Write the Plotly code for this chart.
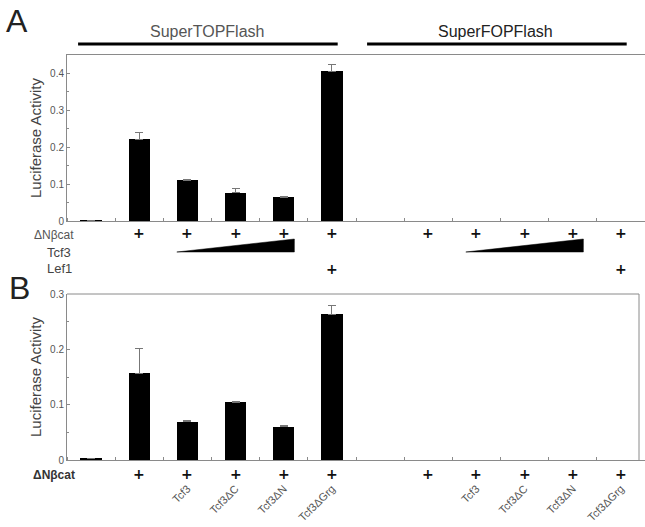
import plotly.graph_objects as go

W, H = 645, 527

# ---------------- data ----------------
cats = list(range(12))
top_vals_A = [0.002, 0.222, 0.110, 0.077, 0.064, 0.406, 0, 0, 0, 0, 0, 0]
top_err_A = [None, 0.017, 0.002, 0.010, 0.002, 0.018, None, None, None, None, None, None]
vals_B = [0.002, 0.157, 0.069, 0.104, 0.060, 0.263, 0, 0, 0, 0, 0, 0]
err_B = [None, 0.045, 0.002, 0.002, 0.002, 0.017, None, None, None, None, None, None]

dncat_A = [0, 1, 1, 1, 1, 1, 0, 1, 1, 1, 1, 1]
lef1_A = [0, 0, 0, 0, 0, 1, 0, 0, 0, 0, 0, 1]
tcf3_wedges = [(2, 4), (8, 10)]
dncat_B = [0, 1, 1, 1, 1, 1, 0, 1, 1, 1, 1, 1]
construct_labels_B = ["", "", "Tcf3", "Tcf3ΔC", "Tcf3ΔN", "Tcf3ΔGrg",
                      "", "", "Tcf3", "Tcf3ΔC", "Tcf3ΔN", "Tcf3ΔGrg"]
groups = [("SuperTOPFlash", 0, 5, "#555555"), ("SuperFOPFlash", 6, 11, "#222222")]

yticks_A = [0, 0.1, 0.2, 0.3, 0.4]
yticks_B = [0, 0.1, 0.2, 0.3]

# ---------------- layout helpers ----------------
def py(px):
    return 1 - px / H

BARW = 0.44
FONT = "Liberation Sans, Arial, sans-serif"
AXC = "#8a8a8a"
TXT = "#555555"

fig = go.Figure()
fig.add_trace(go.Bar(
    x=cats, y=top_vals_A, width=BARW, marker=dict(color="black", line=dict(width=0)),
    error_y=dict(type="data", array=top_err_A, arrayminus=[0 if e is not None else None for e in top_err_A],
                 symmetric=False, color="#777777", thickness=1, width=4),
    xaxis="x", yaxis="y", showlegend=False, hoverinfo="y"))
fig.add_trace(go.Bar(
    x=cats, y=vals_B, width=BARW, marker=dict(color="black", line=dict(width=0)),
    error_y=dict(type="data", array=err_B, arrayminus=[0 if e is not None else None for e in err_B],
                 symmetric=False, color="#777777", thickness=1, width=4),
    xaxis="x2", yaxis="y2", showlegend=False, hoverinfo="y"))

xdom = [67 / W, 1.0]
ydomA = [py(221), py(55)]
ydomB = [py(460), py(294)]

common_x = dict(range=[-0.5, 11.5], domain=xdom, showgrid=False, zeroline=False,
                showline=True, linecolor=AXC, linewidth=1, ticks="", automargin=False,
                minor=dict(tick0=0.5, dtick=1, ticks="inside", ticklen=3, tickcolor=AXC),
                fixedrange=True)
common_y = dict(showgrid=False, zeroline=False, showline=True, linecolor=AXC, linewidth=1,
                ticks="inside", ticklen=3, tickcolor=AXC, automargin=False,
                minor=dict(dtick=0.05, ticks="inside", ticklen=2, tickcolor=AXC),
                tickfont=dict(family=FONT, size=10, color=TXT),
                title=dict(text="Luciferase Activity", font=dict(family=FONT, size=15, color="#444444"),
                           standoff=4))

fig.update_layout(
    width=W, height=H, margin=dict(l=0, r=0, t=0, b=0, autoexpand=False),
    paper_bgcolor="white", plot_bgcolor="white", bargap=0,
    font=dict(family=FONT),
    xaxis=dict(common_x, anchor="y", mirror=True, showticklabels=False),
    yaxis=dict(common_y, domain=ydomA, range=[0, 0.45], tickvals=yticks_A, anchor="x"),
    xaxis2=dict(common_x, anchor="y2", tickvals=cats, ticktext=construct_labels_B,
                tickangle=-45, ticklabelstandoff=17,
                tickfont=dict(family=FONT, size=11, color=TXT)),
    yaxis2=dict(common_y, domain=ydomB, range=[0, 0.3], tickvals=yticks_B, anchor="x2"),
)

shapes = []
annotations = []

def ann(text, x, y, size, color, xref="paper"):
    return dict(text=text, xref=xref, yref="paper", x=x, y=y, xanchor="center", yanchor="middle",
                showarrow=False, font=dict(family=FONT, size=size, color=color))

# Panel B frame: top and right border
shapes.append(dict(type="line", xref="paper", yref="paper", x0=xdom[0], x1=639 / W,
                   y0=ydomB[1], y1=ydomB[1], line=dict(color=AXC, width=1)))
shapes.append(dict(type="line", xref="paper", yref="paper", x0=639 / W, x1=639 / W,
                   y0=ydomB[0], y1=ydomB[1], line=dict(color=AXC, width=1)))

# group headers
for name, a, b, col in groups:
    shapes.append(dict(type="line", xref="x", yref="paper", x0=a - 0.27, x1=b + 0.12,
                       y0=py(44), y1=py(44), line=dict(color="black", width=3)))
    annotations.append(ann(name, (a + b) / 2 - 0.1, py(31), 16, col, xref="x"))

# Tcf3 wedges
for a, b in tcf3_wedges:
    x0, x1 = a - BARW / 2, b + BARW / 2
    shapes.append(dict(type="path", xref="x", yref="paper",
                       path=f"M {x0},{py(252)} L {x1},{py(239)} L {x1},{py(252)} Z",
                       fillcolor="black", line=dict(color="black", width=0.5)))

# plus rows
def plus_row(flags, ypx, xref):
    for c, f in zip(cats, flags):
        if f:
            a = ann("<b>+</b>", c, py(ypx), 14, "#111111", xref=xref)
            a["font"]["family"] = "DejaVu Sans"
            annotations.append(a)

plus_row(dncat_A, 233, "x")
plus_row(lef1_A, 269, "x")
plus_row(dncat_B, 474, "x2")

# row labels
annotations += [
    ann("ΔNβcat", 54 / W, py(235), 12, "#555555"),
    ann("Tcf3", 59 / W, py(252), 13, "#444444"),
    ann("Lef1", 59 / W, py(268), 13, "#444444"),
    ann("<b>ΔNβcat</b>", 54 / W, py(475), 12, "#333333"),
    ann("A", 17 / W, py(21), 32, "#222222"),
    ann("B", 19 / W, py(288), 32, "#222222"),
]

fig.update_layout(shapes=shapes, annotations=annotations)
fig.write_html("out.html", config={"displayModeBar": False},
               post_script="document.body.style.margin='0';document.body.style.padding='0';")
